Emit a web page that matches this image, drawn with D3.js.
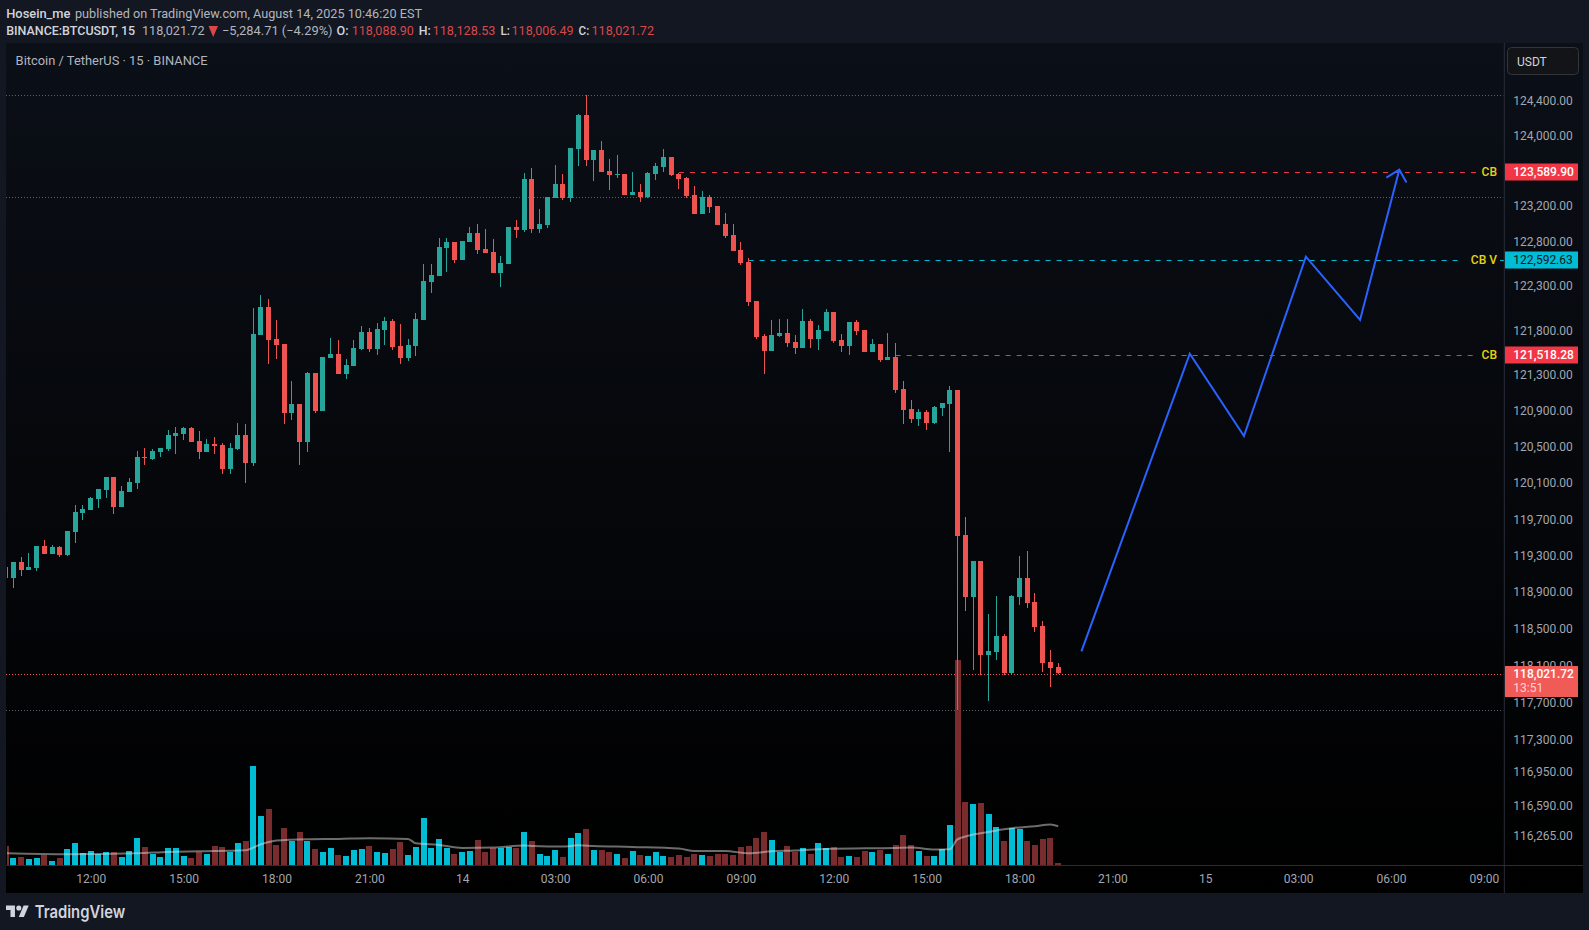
<!DOCTYPE html>
<html>
<head>
<meta charset="utf-8">
<script src="https://cdn.jsdelivr.net/npm/d3@7"></script>
<style>
  html, body { margin: 0; padding: 0; background: #131722; overflow: hidden; }
  svg { display: block; font-family: Roboto, "Noto Sans", sans-serif; }
</style>
</head>
<body>
<svg id="chart" width="1589" height="930" viewBox="0 0 1589 930"></svg>
<script>
// 15 minute bars, first one is cut by the left edge of the pane
const opens = [119178,119060,119232,119145,119167,119408,119320,119397,119309,119562,119771,119804,119925,120024,120168,119837,120002,120102,120389,120367,120444,120477,120621,120644,120710,120566,120444,120533,120521,120256,120477,120632,120323,121747,122061,121702,121646,120877,120977,120555,121322,120899,121490,121534,121311,121400,121590,121781,121590,121803,121904,121624,121489,121624,121916,122342,122410,122726,122793,122590,122793,122895,122714,122680,122443,122545,122963,122929,123507,122940,122985,123292,123451,123292,123848,124237,123723,123837,123599,123553,123564,123326,123360,123303,123564,123644,123757,123564,123519,123326,123110,123303,123201,122997,122872,122703,122567,122129,121736,121568,121736,121770,121668,121601,121904,121702,121792,122006,121691,121624,121893,121803,121557,121646,121467,121500,121144,120921,120810,120888,120766,120932,120977,121133,119529,118848,119243,118218,118250,118424,118023,118848,119057,118794,118533,118142,118088.90];
const highs = [119240,119232,119287,119331,119408,119474,119419,119408,119573,119859,119859,119947,120035,120168,120168,120068,120157,120455,120488,120477,120488,120688,120721,120721,120721,120677,120588,120610,120544,120544,120766,120755,122050,122196,122151,121916,121646,121233,120977,121334,121322,121500,121714,121691,121478,121691,121848,121826,121882,121949,121927,121871,121702,121994,122545,122545,122839,122839,122793,122805,122963,122997,122940,122827,122635,122963,123042,123576,123633,123167,123303,123666,123564,123860,124248,124465,123837,123940,123734,123780,123564,123587,123451,123587,123689,123848,123757,123576,123530,123428,123371,123326,123201,123122,122997,122793,122612,122129,121758,121916,121927,121927,121747,122039,121927,121860,122039,122006,121758,121893,121916,121803,121702,121646,121770,121657,121233,121021,120921,120910,120954,120988,121177,121133,119727,119243,119243,118663,118860,118446,118871,119298,119353,118893,118587,118272,118128.53];
const lows = [119000,118950,119079,119145,119134,119320,119320,119287,119298,119441,119694,119804,119826,119936,119760,119837,120002,120035,120300,120356,120389,120455,120422,120577,120555,120367,120444,120422,120201,120201,120466,120102,120289,121747,121422,121478,120755,120799,120300,120444,120877,120899,121490,121311,121255,121400,121579,121557,121523,121635,121579,121422,121456,121512,121916,122218,122410,122455,122556,122590,122793,122658,122669,122443,122286,122545,122839,122906,122895,122895,122951,123292,123269,123246,123655,123655,123485,123587,123383,123519,123326,123326,123246,123292,123496,123587,123541,123394,123292,123110,123110,123122,122985,122839,122692,122533,122073,121702,121311,121568,121725,121612,121534,121601,121601,121579,121792,121657,121557,121523,121747,121557,121557,121445,121467,121100,120755,120766,120733,120688,120755,120843,120444,117620,118696,118056,118002,117718,118164,118002,118002,118761,118729,118467,118034,117871,118006.49];
const closes = [119060,119232,119145,119178,119408,119320,119397,119309,119573,119782,119815,119936,120035,120168,119837,120013,120113,120389,120378,120455,120488,120632,120655,120710,120555,120444,120533,120510,120256,120488,120632,120323,121758,122061,121691,121635,120877,120977,120555,121322,120899,121500,121534,121311,121412,121601,121781,121590,121815,121904,121612,121489,121635,121927,122354,122421,122737,122793,122590,122805,122895,122703,122669,122443,122556,122963,122929,123507,122940,122997,123303,123451,123292,123860,124237,123723,123837,123587,123553,123564,123326,123360,123303,123576,123655,123757,123553,123507,123315,123110,123303,123190,122985,122861,122692,122556,122118,121725,121568,121747,121770,121657,121601,121904,121702,121803,122006,121680,121624,121893,121792,121557,121646,121467,121500,121133,120910,120810,120888,120766,120943,120988,121133,119518,118848,119243,118218,118261,118424,118023,118860,119057,118783,118522,118131,118078,118021.72];
const volumes = [58,22,25,19,22,31,13,22,49,67,37,43,34,40,40,25,43,82,55,34,25,52,52,28,22,40,34,58,55,40,67,73,298,148,169,61,112,73,100,73,49,40,52,31,28,46,49,58,40,37,49,70,31,55,142,52,79,52,34,40,43,76,40,52,52,55,52,100,73,34,28,46,25,82,97,109,46,46,40,34,22,43,31,28,40,28,25,31,25,34,31,28,34,34,31,55,58,82,100,76,40,58,40,52,34,67,52,55,25,28,25,43,40,46,34,61,91,61,43,28,28,49,121,615,190,184,187,154,115,73,112,109,73,61,79,82,6];

// volume moving average, read at the bars where the line bends
const maBars = [0,8,17,21,25,31,33,35,39,43,47,52,53,56,59,63,67,68,72,74,76,81,87,89,93,96,99,102,106,115,117,120,122,123,127,130,133,135,136];
const maValues = [36,33,36,40,42,45,63,74,78,79,81,79,66,61,52,53,59,58,56,60,58,55,50,43,43,36,42,44,49,52,53,47,48,78,100,111,117,122,117];

const priceTicks = [124400,124000,123200,122800,122300,121800,121300,120900,120500,120100,119700,119300,118900,118500,118100,117700,117300,116950,116590,116265];
const timeBars = [11,23,35,47,59,71,83,95,107,119,131,143,155,167,179,191];
const timeLabels = ["12:00","15:00","18:00","21:00","14","03:00","06:00","09:00","12:00","15:00","18:00","21:00","15","03:00","06:00","09:00"];

// hand drawn forecast line
const sketchBars = [139,153,160,168,175,180.07];
const sketchPrices = [118253,121538,120621,122627,121916,123613];
const arrowBars = [178.4,180.07,181];
const arrowPrices = [123522,123613,123466];

const dottedPrices = [124465,123303,117620];
const lastPrice = 118021.72;
const levelPrices = [123589.90,122592.63,121518.28];
const levelStartBars = [87,96,115];
const levelLabels = ["CB","CB V","CB"];
const levelColors = ["#f23645","#00bcd4","#f23645"];

const pane = { left: 6, top: 43, right: 1583, bottom: 893 };
const axisX = 1504.3;
const timeAxisY = 865.3;

const svg = d3.select("#chart");
const fmt = d3.format(",.2f");

const xScale = d3.scaleLinear().domain([0, 136]).range([5.56, 1058.2]);
const yScale = d3.scaleLog().domain([124400, 116265]).range([100.7, 835.7]);
const volScale = d3.scaleLinear().domain([0, 615]).range([timeAxisY, 660]);

const defs = svg.append("defs");
const grad = defs.append("linearGradient")
  .attr("id", "paneBg").attr("x1", 0).attr("x2", 0).attr("y1", 0).attr("y2", 1);
grad.append("stop").attr("offset", "0%").attr("stop-color", "#0b0f17");
grad.append("stop").attr("offset", "100%").attr("stop-color", "#000000");
defs.append("clipPath").attr("id", "plotClip").append("rect")
  .attr("x", pane.left + 1).attr("y", pane.top)
  .attr("width", axisX - pane.left - 1).attr("height", timeAxisY - pane.top);

svg.append("rect").attr("width", 1589).attr("height", 930).attr("fill", "#131722");
svg.append("rect")
  .attr("x", pane.left).attr("y", pane.top)
  .attr("width", pane.right - pane.left).attr("height", pane.bottom - pane.top)
  .attr("fill", "url(#paneBg)");

// dotted horizontal rays
svg.selectAll("line.dotted")
  .data(dottedPrices)
  .enter()
  .append("line")
  .attr("class", "dotted")
  .attr("x1", pane.left).attr("x2", axisX - 1)
  .attr("y1", (d) => Math.round(yScale(d)) + 0.5)
  .attr("y2", (d) => Math.round(yScale(d)) + 0.5)
  .attr("stroke", "#5d6068")
  .attr("stroke-dasharray", "1,2");

svg.append("line")
  .attr("x1", pane.left).attr("x2", axisX - 1)
  .attr("y1", 674.5).attr("y2", 674.5)
  .attr("stroke", "#f7525f")
  .attr("stroke-dasharray", "1,2");

const plot = svg.append("g").attr("clip-path", "url(#plotClip)");

// dashed levels, stop short of their labels
const levelEnds = [1480, 1462, 1478];
plot.selectAll("line.level")
  .data(levelPrices)
  .enter()
  .append("line")
  .attr("class", "level")
  .attr("x1", (d, i) => xScale(levelStartBars[i]))
  .attr("x2", (d, i) => levelEnds[i])
  .attr("y1", (d) => Math.round(yScale(d)) + 0.5)
  .attr("y2", (d) => Math.round(yScale(d)) + 0.5)
  .attr("stroke", (d, i) => levelColors[i])
  .attr("stroke-dasharray", "5,6");

plot.append("line")
  .attr("x1", 1500).attr("x2", axisX)
  .attr("y1", Math.round(yScale(levelPrices[1])) + 0.5)
  .attr("y2", Math.round(yScale(levelPrices[1])) + 0.5)
  .attr("stroke", levelColors[1]);

// volume
plot.selectAll("rect.vol")
  .data(volumes)
  .enter()
  .append("rect")
  .attr("class", "vol")
  .attr("x", (d, i) => Math.round(xScale(i) - 3))
  .attr("width", 6)
  .attr("y", (d) => Math.round(volScale(d)))
  .attr("height", (d) => Math.round(timeAxisY) - Math.round(volScale(d)))
  .attr("fill", (d, i) => (closes[i] >= opens[i] ? "#00bcd4" : "#7a2b2d"))
  .attr("shape-rendering", "crispEdges");

const maLine = d3.line()
  .x((d) => xScale(d))
  .y((d, i) => volScale(maValues[i]))
  .curve(d3.curveMonotoneX);

plot.append("path")
  .attr("d", maLine(maBars))
  .attr("fill", "none")
  .attr("stroke", "rgba(225,225,225,0.48)")
  .attr("stroke-width", 2);

// candles
const candles = plot.selectAll("g.candle")
  .data(d3.range(opens.length))
  .enter()
  .append("g")
  .attr("class", "candle")
  .attr("fill", (i) => (closes[i] >= opens[i] ? "#26a69a" : "#ef5350"))
  .attr("shape-rendering", "crispEdges");

candles.append("rect")
  .attr("x", (i) => Math.round(xScale(i) - 0.5))
  .attr("width", 1)
  .attr("y", (i) => Math.round(yScale(highs[i])))
  .attr("height", (i) => Math.max(1, Math.round(yScale(lows[i])) - Math.round(yScale(highs[i]))));

candles.append("rect")
  .attr("x", (i) => Math.round(xScale(i) - 2.5))
  .attr("width", 5)
  .attr("y", (i) => Math.round(yScale(Math.max(opens[i], closes[i]))))
  .attr("height", (i) =>
    Math.max(1, Math.round(yScale(Math.min(opens[i], closes[i]))) - Math.round(yScale(Math.max(opens[i], closes[i]))))
  );

// forecast zigzag and its arrow head
const sketch = d3.line()
  .x((d) => xScale(d[0]))
  .y((d) => yScale(d[1]));

plot.append("path")
  .attr("d", sketch(sketchBars.map((b, i) => [b, sketchPrices[i]])))
  .attr("fill", "none")
  .attr("stroke", "#2962ff")
  .attr("stroke-width", 2);

plot.append("path")
  .attr("d", sketch(arrowBars.map((b, i) => [b, arrowPrices[i]])))
  .attr("fill", "none")
  .attr("stroke", "#2962ff")
  .attr("stroke-width", 2);

// axes
const yAxisG = svg.append("g")
  .attr("transform", `translate(${axisX} 0)`)
  .call(d3.axisRight(yScale).tickValues(priceTicks).tickFormat(fmt).tickSize(0).tickPadding(9));
yAxisG.select("path").remove();
yAxisG.selectAll("text")
  .style("font-family", "Roboto, sans-serif")
  .style("font-size", "12px")
  .style("fill", "#a3a6af");

const xAxisG = svg.append("g")
  .attr("transform", `translate(0 ${timeAxisY})`)
  .call(d3.axisBottom(xScale).tickValues(timeBars).tickFormat((d, i) => timeLabels[i]).tickSize(0).tickPadding(9));
xAxisG.select("path").remove();
xAxisG.selectAll("text")
  .style("font-family", "Roboto, sans-serif")
  .style("font-size", "12px")
  .style("fill", "#a3a6af");

svg.append("line")
  .attr("x1", pane.left).attr("x2", pane.right)
  .attr("y1", Math.round(timeAxisY) + 0.5).attr("y2", Math.round(timeAxisY) + 0.5)
  .attr("stroke", "#2a2c33");
svg.append("line")
  .attr("x1", axisX).attr("x2", axisX)
  .attr("y1", pane.top).attr("y2", pane.bottom)
  .attr("stroke", "#2a2e39");

// price badges
const badgeText = ["#ffffff", "#131722", "#ffffff"];
const badges = svg.selectAll("g.badge")
  .data(levelPrices)
  .enter()
  .append("g")
  .attr("class", "badge");
badges.append("rect")
  .attr("x", 1505).attr("width", 73)
  .attr("y", (d) => Math.round(yScale(d)) - 8.5)
  .attr("height", 17)
  .attr("fill", (d, i) => levelColors[i]);
badges.append("text")
  .attr("x", 1513.3)
  .attr("y", (d) => Math.round(yScale(d)) + 4)
  .attr("font-size", 12)
  .attr("font-weight", (d, i) => (i === 1 ? 400 : 500))
  .attr("fill", (d, i) => badgeText[i])
  .text((d) => fmt(d));

svg.selectAll("text.levelLabel")
  .data(levelPrices)
  .enter()
  .append("text")
  .attr("class", "levelLabel")
  .attr("x", 1497)
  .attr("y", (d) => Math.round(yScale(d)) + 3.5)
  .attr("text-anchor", "end")
  .attr("font-size", 12)
  .attr("font-weight", 500)
  .attr("fill", "#e6d20f")
  .text((d, i) => levelLabels[i]);

svg.append("rect")
  .attr("x", 1505).attr("y", 666).attr("width", 73).attr("height", 31)
  .attr("fill", "#f15b57");
svg.append("text")
  .attr("x", 1513.3).attr("y", 677.5)
  .attr("font-size", 12).attr("font-weight", 500).attr("fill", "#ffffff")
  .text(fmt(lastPrice));
svg.append("text")
  .attr("x", 1513.3).attr("y", 692)
  .attr("font-size", 12).attr("fill", "#ffd2d0")
  .text("13:51");

// currency button
svg.append("rect")
  .attr("x", 1507.5).attr("y", 47.5).attr("width", 71).attr("height", 27).attr("rx", 4)
  .attr("fill", "#131417").attr("stroke", "#33353b");
svg.append("text")
  .attr("x", 1517).attr("y", 66)
  .attr("font-size", 12).attr("fill", "#d1d4dc")
  .text("USDT");

// header, each piece pinned to where it sits in the picture
const headerPieces = [
  { t: "Hosein_me", x: 6.2, w: 64.3, y: 17.5, c: "#d1d4dc", b: 500 },
  { t: "published on TradingView.com, August 14, 2025 10:46:20 EST", x: 75, w: 347, y: 17.5, c: "#b2b5be", b: 400 },
  { t: "BINANCE:BTCUSDT, 15", x: 6.2, w: 129, y: 34.5, c: "#d1d4dc", b: 500 },
  { t: "118,021.72", x: 142, w: 62.5, y: 34.5, c: "#b2b5be", b: 400 },
  { t: "\u22125,284.71 (\u22124.29%)", x: 222, w: 110.6, y: 34.5, c: "#b2b5be", b: 400 },
  { t: "O:", x: 336.6, w: 12, y: 34.5, c: "#d1d4dc", b: 500 },
  { t: "118,088.90", x: 351.8, w: 62, y: 34.5, c: "#d9474a", b: 400 },
  { t: "H:", x: 418.7, w: 12, y: 34.5, c: "#d1d4dc", b: 500 },
  { t: "118,128.53", x: 432.6, w: 62.9, y: 34.5, c: "#d9474a", b: 400 },
  { t: "L:", x: 500.4, w: 9.5, y: 34.5, c: "#d1d4dc", b: 500 },
  { t: "118,006.49", x: 511.6, w: 62, y: 34.5, c: "#d9474a", b: 400 },
  { t: "C:", x: 578.6, w: 10.7, y: 34.5, c: "#d1d4dc", b: 500 },
  { t: "118,021.72", x: 591.5, w: 62.5, y: 34.5, c: "#d9474a", b: 400 },
  { t: "Bitcoin / TetherUS \u00b7 15 \u00b7 BINANCE", x: 15.6, w: 192, y: 65, c: "#b2b5be", b: 400 }
];
svg.selectAll("text.head")
  .data(headerPieces)
  .enter()
  .append("text")
  .attr("class", "head")
  .attr("x", (d) => d.x)
  .attr("y", (d) => d.y)
  .attr("textLength", (d) => d.w)
  .attr("lengthAdjust", "spacingAndGlyphs")
  .attr("font-size", 13)
  .attr("font-weight", (d) => d.b)
  .attr("fill", (d) => d.c)
  .text((d) => d.t);

// down marker next to the last price
svg.append("path")
  .attr("d", "M208.5 26 L218 26 L213.2 37 Z")
  .attr("fill", "#d9474a");

// footer logo
const logo = svg.append("g")
  .attr("transform", "translate(6 905.5) scale(0.64)")
  .attr("fill", "#d1d4dc");
logo.append("path").attr("d", "M14 18H7V7H0V0h14v18ZM28 18h-8l7.5-18h8L28 18Z");
logo.append("circle").attr("cx", 20).attr("cy", 4).attr("r", 4);
svg.append("text")
  .attr("x", 34.7).attr("y", 917.5)
  .attr("textLength", 90.5)
  .attr("lengthAdjust", "spacingAndGlyphs")
  .attr("font-family", "Inter, Roboto, sans-serif")
  .attr("font-size", 17)
  .attr("font-weight", 600)
  .attr("fill", "#d1d4dc")
  .text("TradingView");
</script>
</body>
</html>
